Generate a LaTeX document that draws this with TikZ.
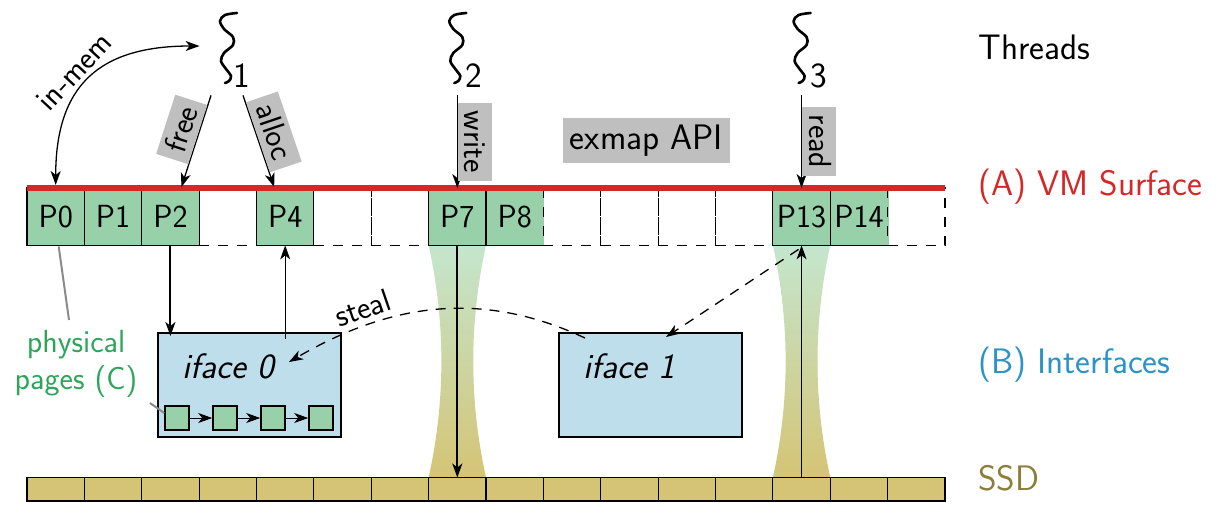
\documentclass[tikz,border=0pt]{standalone}
\usetikzlibrary{arrows.meta,calc,backgrounds}
\definecolor{vmred}{HTML}{D62728}
\definecolor{pagegreen}{HTML}{98D1A9}
\definecolor{bandgreen}{HTML}{C4E6CE}
\definecolor{ssdcol}{HTML}{D5C475}
\definecolor{ifaceblue}{HTML}{BFDEEB}
\definecolor{boxgray}{HTML}{BFBFBF}
\definecolor{lineGray}{HTML}{8A8A8A}
\definecolor{lblblue}{HTML}{2B93C6}
\definecolor{lblgreen}{HTML}{2EA55B}
\definecolor{lblolive}{HTML}{8C7D3B}
\begin{document}
\begin{tikzpicture}[x=0.5pt,y=-0.5pt,font=\sffamily,
  >={Stealth[length=7pt,width=5pt,inset=2pt]},
  smallfont/.style={font=\sffamily\fontsize{16}{18.5}\selectfont},
  bigfont/.style={font=\sffamily\fontsize{17.7}{21}\selectfont},
  cellbase/.style={rectangle, minimum width=28.6875pt, minimum height=28.6875pt, inner sep=0pt, outer sep=0pt, line width=0.6pt},
  page/.style={cellbase, draw, fill=pagegreen, smallfont},
  emptycell/.style={cellbase, draw, dash pattern=on 5pt off 4.5pt},
  ssdcell/.style={cellbase, minimum height=11.75pt, draw, fill=ssdcol},
  ifacebox/.style={rectangle, draw, line width=1pt, fill=ifaceblue, minimum width=91.5pt, minimum height=52pt, inner sep=0pt},
  ppage/.style={rectangle, draw, line width=0.8pt, fill=pagegreen, minimum size=12pt, inner sep=0pt},
  graybox/.style={fill=boxgray, smallfont, inner xsep=4pt, inner ysep=2pt, text height=11.4pt, text depth=1.4pt},
  threadnode/.style={rectangle, minimum width=20pt, minimum height=41pt, inner sep=0pt},
  arr/.style={->, line width=0.65pt},
  thickarr/.style={->, line width=1pt},
  thinarr/.style={->, line width=0.5pt},
  dashedarr/.style={->, line width=0.65pt, dash pattern=on 5pt off 4pt},
  grayline/.style={lineGray, line width=1pt},
  sidelabel/.style={bigfont, anchor=base west, inner sep=0pt},
  squiggle/.pic={\draw[line width=1.3pt, line cap=round] plot[smooth, tension=0.55] coordinates {(9,-41) (-3,-39) (-8,-33) (-4,-25) (5,-17) (5,-9) (-4,-1) (-7,7) (-2,15) (3,22) (1,27) (-3,29)};}
]
\useasboundingbox (0,0) rectangle (1229,504);

% VM surface cells
\foreach \i in {3,5,6,9,10,11,12,15}
  \node[emptycell] (P\i) at ({55.6875+57.375*\i},216.7) {};
\foreach \i in {0,1,2,4,7,8,13,14}
  \node[page] (P\i) at ({55.6875+57.375*\i},216.7) {P\i};
\foreach \i in {8,14} {
  \draw[pagegreen, line width=1pt] (P\i.north east) -- (P\i.south east);
  \draw[line width=0.6pt, dash pattern=on 5pt off 4.5pt] (P\i.north east) -- (P\i.south east);
}
\draw[vmred, line width=3pt] (P0.north west) -- (P15.north east);

% SSD cells
\foreach \i in {0,...,15}
  \node[ssdcell] (S\i) at ({55.6875+57.375*\i},489.25) {};

% gradient bands
\begin{pgfonlayer}{background}
\foreach \i in {7,13} {
  \shade[top color=bandgreen, bottom color=ssdcol]
    (P\i.south west) .. controls +(17,77) and +(17,-77) .. (S\i.north west)
    -- (S\i.north east) .. controls +(-17,-77) and +(-17,77) .. (P\i.south east) -- cycle;
}
\end{pgfonlayer}

% interfaces
\node[ifacebox] (iface0) at (249.5,385) {};
\node[ifacebox] (iface1) at (650.5,385) {};
\node[bigfont] (if0lbl) at ($(iface0.center)+(-21,-19)$) {\itshape iface 0};
\node[bigfont] (if1lbl) at ($(iface1.center)+(-21,-19)$) {\itshape iface 1};
\foreach \i/\x in {1/177,2/225,3/273,4/321}
  \node[ppage] (pp\i) at (\x,418) {};
\draw[thinarr] (pp1) -- (pp2);
\draw[thinarr] (pp2) -- (pp3);
\draw[thinarr] (pp3) -- (pp4);

% physical pages label
\node[smallfont, text=lblgreen, align=center] (phys) at (76,364) {physical\\pages (C)};
\coordinate (physA) at (69,320);
\coordinate (physB) at (150,403);
\draw[grayline] ($(P0.south)+(3,1)$) -- (physA);
\draw[grayline] (physB) -- ($(pp1.west)+(0,-5)$);

% threads
\node[threadnode] (T1) at (228,54) {};
\node[threadnode] (T2) at (457.3,54) {};
\node[threadnode] (T3) at (801.6,54) {};
\pic at (T1.center) {squiggle};
\pic at (T2.center) {squiggle};
\pic at (T3.center) {squiggle};
\node[bigfont, anchor=base] (T1n) at (241.5,87) {1};
\node[bigfont, anchor=base] (T2n) at (474,87) {2};
\node[bigfont, anchor=base] (T3n) at (819,87) {3};

% thread operations
\draw[arr, <->] ($(P0.north)+(0,-3)$) .. controls +(0,-100) and +(-100,0) .. ($(T1.west)+(-8,-8)$)
  node[smallfont, sloped, above, pos=0.47, inner sep=2.5pt] (linmem) {in-mem};
\draw[arr] ($(T1.south)+(-17,0)$) -- ($(P2.north)+(11,-1)$)
  node[graybox, sloped, above, pos=0.43] (lfree) {free};
\draw[arr] ($(T1.south)+(15,0)$) -- ($(P4.north)+(-11,-1)$)
  node[graybox, sloped, above, pos=0.46] (lalloc) {alloc};
\draw[arr] (P7.north |- T2.south) -- (P7.north)
  node[graybox, rotate=-90, anchor=south, pos=0.5] (lwrite) {write};
\draw[arr] (P13.north |- T3.south) -- (P13.north)
  node[graybox, rotate=-90, anchor=south, pos=0.5] (lread) {read};
\node[fill=boxgray, bigfont, inner xsep=3.5pt, inner ysep=3pt, text height=12.8pt, text depth=3.6pt] (api) at (646.5,140.5) {exmap API};

% page movement
\draw[thickarr] (P2.south) -- ($(P2.south |- iface0.north)+(0,4)$);
\draw[thinarr] ($(P4.south |- iface0.north)+(0,7)$) -- (P4.south);
\draw[thickarr] (P7.south) -- (S7.north);
\draw[thinarr] (S13.north) -- (P13.south);
\draw[dashedarr] ($(P13.south)+(-3,4)$) -- ($(iface1.north west)+(108,5)$);
\draw[dashedarr] ($(iface1.north west)+(27,6)$) .. controls +(-105,-49) and +(100,-58) .. ($(iface0.north west)+(132,30)$)
  node[smallfont, sloped, above, pos=0.73, inner sep=3pt] (lsteal) {steal};

% side labels
\node[sidelabel] (lthreads) at (978,59) {Threads};
\node[sidelabel, text=vmred] (lvm) at (978,195) {(A) VM Surface};
\node[sidelabel, text=lblblue] (lif) at (978,373) {(B) Interfaces};
\node[sidelabel, text=lblolive] (lssd) at (978,490) {SSD};
\end{tikzpicture}
\end{document}
